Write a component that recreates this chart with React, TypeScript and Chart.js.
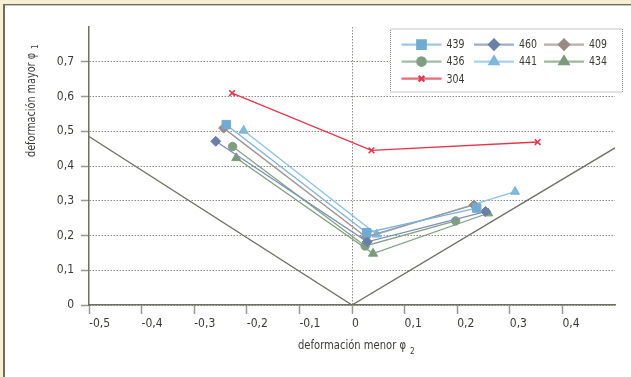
import React, { useEffect, useRef } from 'react';
import { Chart, registerables } from 'chart.js';
import { drawPoint } from 'chart.js/helpers';

Chart.register(...registerables);

// ---- data ----
const seriesNames = ['439', '460', '409', '436', '441', '434', '304'];
const d439: [number, number][] = [[-0.239, 0.519], [0.028, 0.208], [0.237, 0.279]];
const d460: [number, number][] = [[-0.259, 0.471], [0.029, 0.182], [0.254, 0.269]];
const d409: [number, number][] = [[-0.244, 0.509], [0.026, 0.196], [0.232, 0.288]];
const d436: [number, number][] = [[-0.227, 0.456], [0.025, 0.170], [0.197, 0.242]];
const d441: [number, number][] = [[-0.206, 0.502], [0.047, 0.203], [0.310, 0.326]];
const d434: [number, number][] = [[-0.220, 0.423], [0.040, 0.148], [0.259, 0.264]];
const d304: [number, number][] = [[-0.228, 0.610], [0.037, 0.445], [0.353, 0.469]];
const seriesData = [d439, d460, d409, d436, d441, d434, d304];
const limitLine: [number, number][] = [[-0.5, 0.485], [0, 0], [0.5, 0.452]];

const xMin = -0.5, xMax = 0.5, yMin = 0, yMax = 0.8, step = 0.1;
const xTitle = 'deformación menor φ';
const xTitleSub = '2';
const yTitle = 'deformación mayor φ';
const yTitleSub = '1';

// ---- styles ----
const FONT = '"Liberation Sans Narrow", "DejaVu Sans Condensed", "Roboto", sans-serif';
const TEXT = '#3a3a36';
const AXIS = '#6e6e62';
const GRID = '#8c8c84';
const styles = [
  { line: '#7fb4d6', fill: '#72abd2', point: 'rect', r: 6 },
  { line: '#7c90b4', fill: '#6a80a8', point: 'rectRot', r: 5 },
  { line: '#a09490', fill: '#9a8a84', point: 'rectRot', r: 5 },
  { line: '#84a486', fill: '#7f9f80', point: 'circle', r: 4.2 },
  { line: '#8cc2e2', fill: '#7fb8dc', point: 'triangle', r: 5.2 },
  { line: '#7f9f80', fill: '#7a9b7b', point: 'triangle', r: 5.2 },
  { line: '#e8344c', fill: '#e8344c', point: 'crossRot', r: 4 },
];

const fmt = (v: number) => {
  if (Math.abs(v) < 1e-9) return '0';
  return v.toFixed(1).replace('.', ',');
};

const bgPlugin = {
  id: 'bg',
  beforeDraw(chart: any) {
    const ctx = chart.ctx;
    const w = chart.width, h = chart.height;
    ctx.save();
    ctx.fillStyle = '#f7efd5';
    ctx.fillRect(0, 0, w, h);
    ctx.fillStyle = '#6f6f60';
    ctx.fillRect(3, 4, w - 3, h - 4);
    ctx.fillStyle = '#ffffff';
    ctx.fillRect(5, 5.4, w - 5, h - 5.4);
    ctx.restore();
  },
};

// draw text squeezed horizontally to a target width
const fitText = (ctx: any, text: string, x: number, y: number, target: number) => {
  const w = ctx.measureText(text).width;
  const k = Math.min(1, target / w);
  ctx.save();
  ctx.translate(x, y);
  ctx.scale(k, 1);
  ctx.fillText(text, 0, 0);
  ctx.restore();
  return w * k;
};

const titlePlugin = {
  id: 'titles',
  afterDraw(chart: any) {
    const ctx = chart.ctx;
    ctx.save();
    ctx.fillStyle = TEXT;
    ctx.textBaseline = 'middle';
    ctx.textAlign = 'left';
    // x title
    ctx.font = `13px ${FONT}`;
    const x0 = 298;
    const xw = fitText(ctx, xTitle, x0, 346, 108);
    ctx.font = `8px ${FONT}`;
    ctx.fillText(xTitleSub, x0 + xw + 4, 352);
    // y title
    ctx.translate(32, 157);
    ctx.rotate(-Math.PI / 2);
    ctx.font = `13px ${FONT}`;
    const yw = fitText(ctx, yTitle, 0, 0, 104);
    ctx.font = `8px ${FONT}`;
    ctx.fillText(yTitleSub, yw + 4, 4);
    ctx.restore();
  },
};

const legendPlugin = {
  id: 'customLegend',
  afterDraw(chart: any) {
    const ctx = chart.ctx;
    const bx = 390, by = 28.5, bw = 232, bh = 63;
    ctx.save();
    ctx.fillStyle = '#ffffff';
    ctx.fillRect(bx, by, bw, bh);
    ctx.strokeStyle = GRID;
    ctx.lineWidth = 1;
    ctx.setLineDash([1, 1]);
    ctx.strokeRect(bx + 0.5, by + 0.5, bw, bh);
    ctx.setLineDash([]);
    const colX = [401.5, 474, 544];
    const rowY = [44.6, 61.6, 78.7];
    seriesNames.forEach((name, i) => {
      const st = styles[i];
      const lx = colX[i % 3];
      const ly = rowY[Math.floor(i / 3)];
      ctx.globalAlpha = 0.75;
      ctx.strokeStyle = st.line;
      ctx.lineWidth = 2.2;
      ctx.beginPath();
      ctx.moveTo(lx, ly);
      ctx.lineTo(lx + 40, ly);
      ctx.stroke();
      ctx.globalAlpha = 1;
      ctx.fillStyle = st.fill;
      ctx.strokeStyle = st.fill;
      drawPoint(ctx, {
        pointStyle: st.point,
        radius: st.r,
        rotation: 0,
        borderWidth: st.point === 'crossRot' ? 1.6 : 1,
      } as any, lx + 20, ly);
      ctx.fillStyle = TEXT;
      ctx.font = `13px ${FONT}`;
      ctx.textAlign = 'left';
      ctx.textBaseline = 'middle';
      fitText(ctx, name, lx + 45, ly + 0.5, 18);
    });
    ctx.restore();
  },
};

export default function App() {
  const ref = useRef<HTMLCanvasElement | null>(null);
  useEffect(() => {
    if (!ref.current) return;
    const datasets: any[] = [
      {
        label: 'limit',
        data: limitLine.map(([x, y]) => ({ x, y })),
        borderColor: AXIS,
        borderWidth: 1.3,
        pointRadius: 0,
        showLine: true,
      },
    ];
    seriesNames.forEach((name, i) => {
      const st = styles[i];
      datasets.push({
        label: name,
        data: seriesData[i].map(([x, y]) => ({ x, y })),
        borderColor: st.line,
        borderWidth: 1.3,
        showLine: true,
        pointStyle: st.point,
        pointRadius: st.r,
        pointBackgroundColor: st.fill,
        pointBorderColor: st.fill,
        pointBorderWidth: st.point === 'crossRot' ? 1.6 : 1,
      });
    });
    const chart = new Chart(ref.current, {
      type: 'scatter',
      data: { datasets },
      options: {
        animation: false,
        responsive: false,
        maintainAspectRatio: false,
        events: [],
        layout: { padding: { left: 29, top: 27, right: 16, bottom: 0 } },
        plugins: { legend: { display: false }, tooltip: { enabled: false } },
        scales: {
          x: {
            type: 'linear',
            min: xMin,
            max: xMax,
            afterBuildTicks: (s: any) => {
              s.ticks = s.ticks.filter((t: any) => t.value < xMax - 1e-6);
            },
            afterFit: (s: any) => {
              s.height = 72;
            },
            ticks: {
              stepSize: step,
              align: 'start',
              padding: 3,
              color: TEXT,
              font: { family: FONT, size: 12 },
              callback: (v: any) => fmt(Number(v)),
            },
            grid: {
              color: (c: any) => (c.tick && Math.abs(c.tick.value) < 1e-9 ? GRID : 'rgba(0,0,0,0)'),
              lineWidth: 1,
              drawTicks: true,
              tickLength: 9,
              tickColor: '#9a9a90',
              tickWidth: 1.5,
            },
            border: { display: true, color: AXIS, width: 1.5, dash: [1.5, 1.5] },
          },
          y: {
            type: 'linear',
            min: yMin,
            max: yMax,
            afterBuildTicks: (s: any) => {
              s.ticks = s.ticks.filter((t: any) => t.value < yMax - 1e-6);
            },
            afterFit: (s: any) => {
              s.width = 60;
            },
            ticks: {
              stepSize: step,
              padding: 7,
              color: TEXT,
              font: { family: FONT, size: 12 },
              callback: (v: any) => fmt(Number(v)),
            },
            grid: {
              color: GRID,
              lineWidth: 1,
              drawTicks: true,
              tickLength: 8,
              tickColor: '#9a9a90',
              tickWidth: 1.5,
            },
            border: { display: true, color: AXIS, width: 1.5, dash: [1.5, 1.5] },
          },
        },
      } as any,
      plugins: [bgPlugin, titlePlugin, legendPlugin],
    });
    return () => chart.destroy();
  }, []);
  return (
    <div style={{ position: 'fixed', left: 0, top: 0, width: 631, height: 377 }}>
      <canvas ref={ref} width={631} height={377} style={{ display: 'block', width: 631, height: 377 }} />
    </div>
  );
}
